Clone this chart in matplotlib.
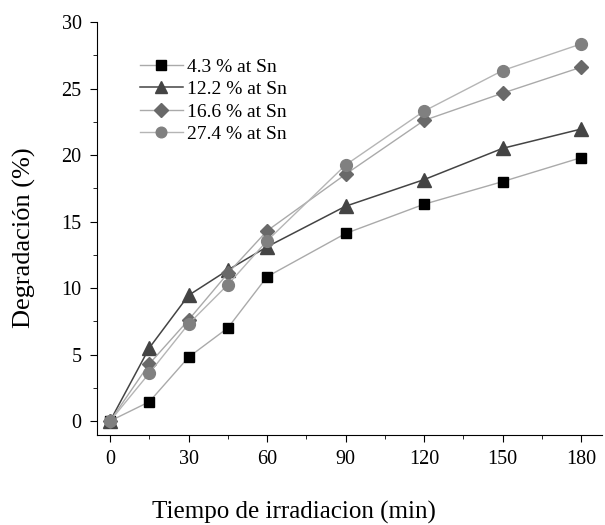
import matplotlib
matplotlib.use("Agg")
import matplotlib.pyplot as plt
from matplotlib.ticker import MultipleLocator

plt.rcParams['font.family'] = ['Liberation Serif', 'DejaVu Serif']

# datos
tiempo = [0, 15, 30, 45, 60, 90, 120, 150, 180]
sn_43 = [0, 1.45, 4.8, 7.0, 10.85, 14.1, 16.3, 18.0, 19.8]
sn_122 = [0, 5.5, 9.45, 11.35, 13.1, 16.15, 18.15, 20.5, 21.95]
sn_166 = [0, 4.3, 7.6, 11.1, 14.3, 18.55, 22.6, 24.65, 26.6]
sn_274 = [0, 3.6, 7.3, 10.25, 13.55, 19.25, 23.3, 26.35, 28.35]
etiquetas = ["4.3 % at Sn", "12.2 % at Sn", "16.6 % at Sn", "27.4 % at Sn"]

fig = plt.figure(figsize=(6.05, 5.25), dpi=100)
ax = fig.add_axes([97 / 605, 90 / 525, 505 / 605, 413 / 525])

ax.plot(tiempo, sn_43, color="#aaaaaa", lw=1, marker="s", ms=7.5,
        mfc="black", mec="black", label=etiquetas[0])
ax.plot(tiempo, sn_122, color="#444444", lw=1.1, marker="^", ms=10,
        mfc="#444444", mec="#444444", label=etiquetas[1])
ax.plot(tiempo, sn_166, color="#aaaaaa", lw=1, marker="D", ms=7.5,
        mfc="#696969", mec="#696969", label=etiquetas[2])
ax.plot(tiempo, sn_274, color="#b5b5b5", lw=1, marker="o", ms=8.5,
        mfc="#808080", mec="#808080", label=etiquetas[3])

ax.set_xlim(-5, 188)
ax.set_ylim(-1.05, 30)
ax.xaxis.set_major_locator(MultipleLocator(30))
ax.xaxis.set_minor_locator(MultipleLocator(15))
ax.yaxis.set_major_locator(MultipleLocator(5))
ax.yaxis.set_minor_locator(MultipleLocator(2.5))
ax.tick_params(which="major", direction="out", length=5, labelsize=14.5, pad=6)
ax.tick_params(which="minor", direction="out", length=3)
ax.spines["top"].set_visible(False)
ax.spines["right"].set_visible(False)

ax.set_xlabel("Tiempo de irradiacion (min)", fontsize=18)
ax.xaxis.set_label_coords((294 - 97) / 505, -0.16)
ax.set_ylabel("Degradación (%)", fontsize=19)
ax.yaxis.set_label_coords((36 - 97) / 505, 0.477)

ax.legend(loc="upper left", bbox_to_anchor=(0.05, 0.955), frameon=False,
          fontsize=14, handlelength=2.2, handletextpad=0.25, labelspacing=0.25,
          markerscale=0.9)

fig.savefig("out.png", dpi=100)
